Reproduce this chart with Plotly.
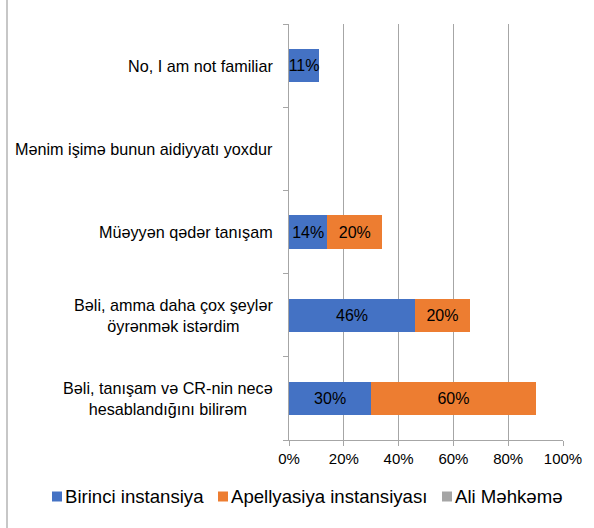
import plotly.graph_objects as go

categories = [
    "Bəli, tanışam və CR-nin necə<br>hesablandığını bilirəm",
    "Bəli, amma daha çox şeylər<br>öyrənmək istərdim",
    "Müəyyən qədər tanışam",
    "Mənim işimə bunun aidiyyatı yoxdur",
    "No, I am not familiar",
]
series_names = ["Birinci instansiya", "Apellyasiya instansiyası", "Ali Məhkəmə"]
birinci = [30, 46, 14, 0, 11]
apellyasiya = [60, 20, 20, 0, 0]
ali = [0, 0, 0, 0, 0]
x_ticks = [0, 20, 40, 60, 80, 100]
x_tick_labels = ["0%", "20%", "40%", "60%", "80%", "100%"]

colors = ["#4472C4", "#ED7D31", "#A5A5A5"]
FONT = "Arial, Liberation Sans, sans-serif"

W, H = 594, 528
ML, MR, MT, MB = 289, 31, 24, 88
PW, PH = W - ML - MR, H - MT - MB


def px_x(p):
    return (p - ML) / PW


def px_y(p):
    return (H - MB - p) / PH


fig = go.Figure()
for name, vals, col in zip(series_names, [birinci, apellyasiya, ali], colors):
    fig.add_trace(go.Bar(
        y=categories, x=vals, name=name, orientation="h",
        marker=dict(color=col, line=dict(width=0)),
        text=[f"{v}%" if v > 0 else "" for v in vals],
        textposition="inside", insidetextanchor="middle", textangle=0,
        constraintext="none",
        textfont=dict(family=FONT, size=16, color="#000000"),
        hoverinfo="skip", showlegend=False,
    ))

for c in categories:
    fig.add_annotation(
        x=0, xref="paper", y=c, yref="y", text=c, showarrow=False,
        xanchor="right", xshift=-14, align="center",
        font=dict(family=FONT, size=16.2, color="#000000"),
    )

# legend (marker squares + labels), built from series names and colours
legend_marker_x = [52, 218, 442]
legend_y = 496.5
for name, col, mx in zip(series_names, colors, legend_marker_x):
    fig.add_shape(type="rect", xref="paper", yref="paper",
                  x0=px_x(mx), x1=px_x(mx + 10),
                  y0=px_y(legend_y + 5), y1=px_y(legend_y - 5),
                  fillcolor=col, line=dict(width=0))
    fig.add_annotation(x=px_x(mx + 11), xref="paper", y=px_y(legend_y), yref="paper",
                       text=name, showarrow=False, xanchor="left", yanchor="middle",
                       font=dict(family=FONT, size=18.6, color="#000000"))

# outer chart border (left edge visible)
fig.add_shape(type="line", xref="paper", yref="paper",
              x0=px_x(7), x1=px_x(7), y0=px_y(H), y1=px_y(0),
              line=dict(color="#A6A6A6", width=1.25))

fig.update_layout(
    width=W, height=H,
    margin=dict(l=ML, r=MR, t=MT, b=MB, pad=0, autoexpand=False),
    barmode="stack", bargap=0.6,
    paper_bgcolor="white", plot_bgcolor="white",
    font=dict(family=FONT, size=15, color="#000000"),
    xaxis=dict(
        range=[0, 100], tickvals=x_ticks, ticktext=x_tick_labels,
        showgrid=True, gridcolor="#A6A6A6", gridwidth=1,
        showline=True, linecolor="#A6A6A6", linewidth=1,
        ticks="outside", ticklen=5, tickcolor="#A6A6A6",
        tickfont=dict(family=FONT, size=15, color="#000000"),
        zeroline=False, fixedrange=True, automargin=False,
    ),
    yaxis=dict(
        showticklabels=False, showline=True, linecolor="#A6A6A6", linewidth=1,
        ticks="outside", ticklen=5, tickcolor="#A6A6A6", tickson="boundaries",
        showgrid=False, zeroline=False, fixedrange=True, automargin=False,
    ),
    showlegend=False,
)

fig.write_html("out.html", config={"displayModeBar": False},
               post_script="document.body.style.margin='0';document.body.style.overflow='hidden';")
